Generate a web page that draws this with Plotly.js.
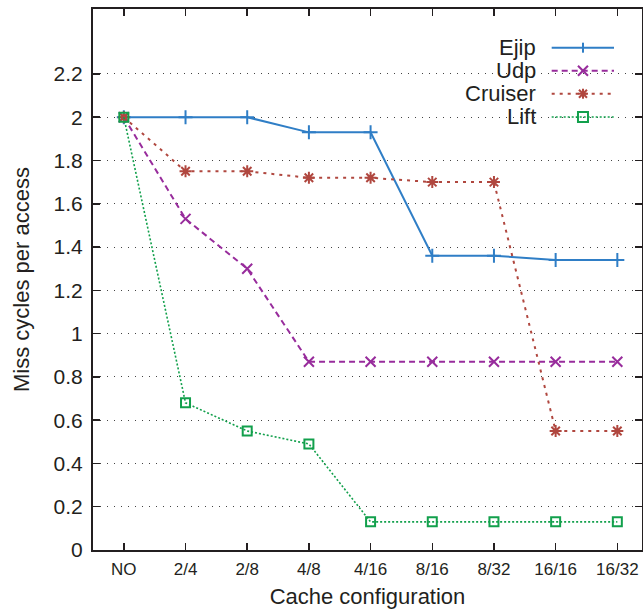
<!DOCTYPE html>
<html><head><meta charset="utf-8">
<script src="https://cdn.plot.ly/plotly-3.0.1.min.js"></script>
<style>html,body{margin:0;padding:0;background:#fff}#chart{width:643px;height:610px}</style>
</head><body><div id="chart"></div>
<script>
// ---- data ----
const categories = ['NO','2/4','2/8','4/8','4/16','8/16','8/32','16/16','16/32'];
const seriesNames = ['Ejip','Udp','Cruiser','Lift'];
const ejip    = [2, 2, 2, 1.93, 1.93, 1.36, 1.36, 1.34, 1.34];
const udp     = [2, 1.53, 1.30, 0.87, 0.87, 0.87, 0.87, 0.87, 0.87];
const cruiser = [2, 1.75, 1.75, 1.72, 1.72, 1.70, 1.70, 0.55, 0.55];
const lift    = [2, 0.68, 0.55, 0.49, 0.13, 0.13, 0.13, 0.13, 0.13];
const yTickVals = [0, 0.2, 0.4, 0.6, 0.8, 1, 1.2, 1.4, 1.6, 1.8, 2, 2.2];
const yTickText = ['0','0.2','0.4','0.6','0.8','1','1.2','1.4','1.6','1.8','2','2.2'];
const xTitle = 'Cache configuration';
const yTitle = 'Miss cycles per access';

// ---- styles ----
const FONT = 'Liberation Sans, Arial, Helvetica, sans-serif';
const TXT = '#231f20';
const styles = [
  {color:'#2f7ec6', dash:'solid',     width:2,   symbol:'cross-thin-open', size:10},
  {color:'#982c9c', dash:'6px,4px',   width:2,   symbol:'x-thin-open',     size:10},
  {color:'#b0473f', dash:'3px,5px',   width:2,   symbol:'asterisk-open',   size:10},
  {color:'#12a04c', dash:'2px,2px',   width:1.6, symbol:'square-open',     size:9}
];
const values = [ejip, udp, cruiser, lift];

const traces = values.map((v, i) => ({
  type:'scatter', mode:'lines+markers', name: seriesNames[i],
  x: categories, y: v, showlegend:false,
  line:{color:styles[i].color, dash:styles[i].dash, width:styles[i].width},
  marker:{symbol:styles[i].symbol, size:styles[i].size, color:styles[i].color,
          line:{color:styles[i].color, width:2}}
}));

// ---- custom legend (text right of keys like gnuplot) ----
const legTextX = 0.810, legLineX0 = 0.8355, legLineX1 = 0.949, legMarkX = 0.8925;
const legRows = [0.9285, 0.886, 0.8434, 0.8004];
const shapes = [], annotations = [];
seriesNames.forEach((name, i) => {
  const y = legRows[i], s = styles[i];
  annotations.push({xref:'paper', yref:'paper', x:legTextX, y:y, xanchor:'right', yanchor:'middle',
    text:name, showarrow:false, font:{family:FONT, size:22, color:TXT}});
  shapes.push({type:'line', xref:'paper', yref:'paper', x0:legLineX0, x1:legLineX1, y0:y, y1:y,
    line:{color:s.color, width:s.width, dash:s.dash}});
  const seg = (x0,y0,x1,y1) => shapes.push({type:'line', xref:'paper', yref:'paper',
    xsizemode:'pixel', ysizemode:'pixel', xanchor:legMarkX, yanchor:y,
    x0:x0, y0:y0, x1:x1, y1:y1, line:{color:s.color, width:2}});
  if (i === 0) { seg(0,-5,0,5); }
  else if (i === 1) { seg(-5,-5,5,5); seg(-5,5,5,-5); }
  else if (i === 2) { seg(0,-5,0,5); seg(-5,0,5,0); seg(-4,-4,4,4); seg(-4,4,4,-4); }
  else {
    shapes.push({type:'rect', xref:'paper', yref:'paper', xsizemode:'pixel', ysizemode:'pixel',
      xanchor:legMarkX, yanchor:y, x0:-5, x1:5, y0:-5, y1:5, line:{color:s.color, width:2},
      fillcolor:'rgba(0,0,0,0)'});
  }
});

const layout = {
  width:643, height:610,
  margin:{l:93, r:1, t:9, b:60, pad:0},
  paper_bgcolor:'#fff', plot_bgcolor:'#fff',
  font:{family:FONT, color:TXT},
  showlegend:false,
  xaxis:{
    type:'category', range:[-0.5, 8.4],
    showline:true, linecolor:'#231f20', linewidth:2, mirror:'ticks',
    ticks:'inside', ticklen:7, tickwidth:1.5, tickcolor:'#231f20',
    showgrid:false, zeroline:false,
    tickfont:{family:FONT, size:17, color:TXT},
    ticklabelstandoff:3,
    title:{text:xTitle, font:{family:FONT, size:22, color:TXT}, standoff:10}
  },
  yaxis:{
    range:[0, 2.5], tickvals:yTickVals, ticktext:yTickText,
    showline:true, linecolor:'#231f20', linewidth:2, mirror:'ticks',
    ticks:'inside', ticklen:7, tickwidth:1.5, tickcolor:'#231f20',
    showgrid:true, gridcolor:'#444', gridwidth:1, griddash:'1px,6px',
    zeroline:false,
    tickfont:{family:FONT, size:21, color:TXT},
    ticklabelstandoff:4,
    title:{text:yTitle, font:{family:FONT, size:22, color:TXT}, standoff:18}
  },
  shapes:shapes, annotations:annotations
};

Plotly.newPlot('chart', traces, layout, {displayModeBar:false, staticPlot:true});
</script>
</body></html>
